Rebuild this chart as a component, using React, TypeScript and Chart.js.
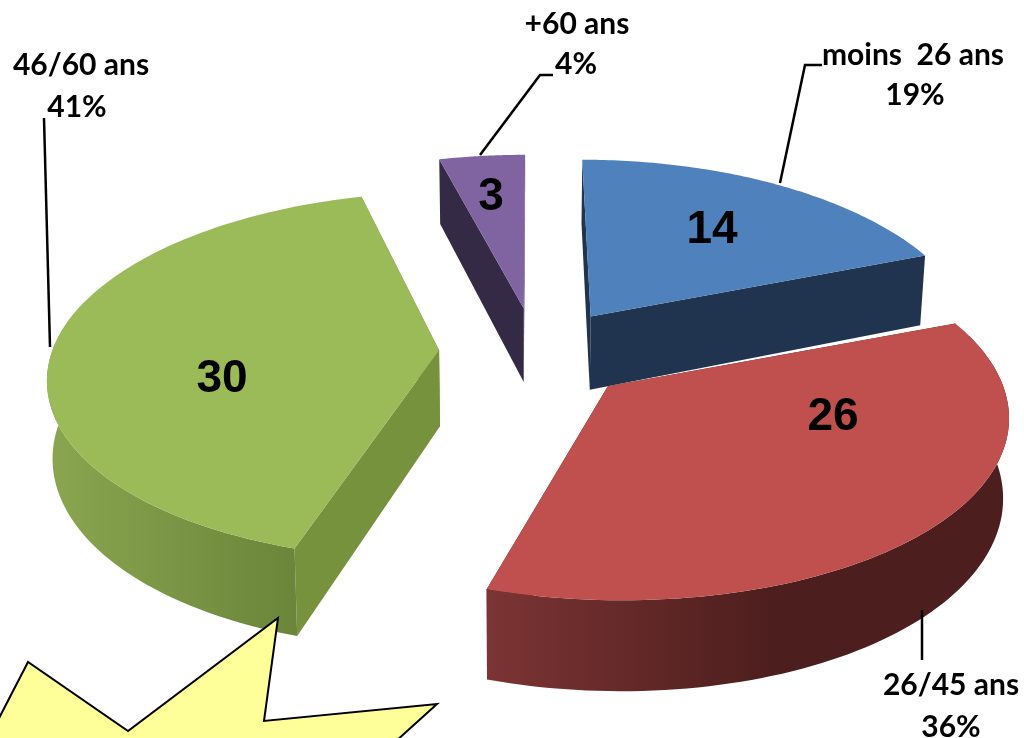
import React, { useEffect, useRef } from "react";
import { Chart, registerables } from "chart.js";

Chart.register(...registerables);

const categories = ["moins  26 ans", "26/45 ans", "46/60 ans", "+60 ans"];
const values = [14, 26, 30, 3];
const percents = ["19%", "36%", "41%", "4%"];

const topColors = ["#4f81bd", "#c0504d", "#9bbb59", "#8064a2"];
const cutColors = ["#20344f", "#4a1e1d", "#76923c", "#352a45"];
const wallStops = [
  ["#20344f", "#20344f"],
  ["#7c3434", "#4c1e1d"],
  ["#8aa650", "#6b853a"],
  ["#352a45", "#352a45"],
];

// view of the pie plane
const explode = [122, 122, 80, 90];
const nudgeX = [7, -1, 2, 18];
const nudgeY = [18, 0, 6, 5];
const stretchX = [1.06, 1.03, 1.04, 1.06];
const stretchZ = [1.08, 0.97, 1.01, 1.047];
const FOCAL = 2700;
const TILT = 0.48;
const DEPTH = 76;
const CONVERGE = 0.012;

const valuePos = [[712, 230], [833, 417], [222, 379], [491, 197]];
const leaders = [
  [[780, 183], [805, 65], [822, 65]],
  [[922, 610], [922, 660]],
  [[50, 347], [44, 118]],
  [[480, 155], [540, 75], [553, 75]],
];
const catPos = [[913, 55], [951, 685], [81, 65], [577, 24]];
const pctPos = [[915, 95], [951, 727], [77, 107], [576, 64]];
const star = [[-4, 724], [28, 662], [128, 731], [278, 618], [264, 721], [437, 704], [395, 742], [-4, 742]];

const pie3d = {
  id: "pie3d",
  beforeDatasetsDraw(chart: any) {
    const ctx = chart.ctx as CanvasRenderingContext2D;
    const arcs = chart.getDatasetMeta(0).data as any[];
    const order = arcs
      .map((_, i) => i)
      .sort((a, b) => {
        const z = (i: number) => Math.sin((arcs[i].startAngle + arcs[i].endAngle) / 2) * explode[i];
        return z(a) - z(b);
      });

    for (const i of order) {
      const arc = arcs[i];
      const { x: cx, y: cy, startAngle, endAngle, outerRadius: R } = arc;
      const mid = (startAngle + endAngle) / 2;
      const ox = Math.cos(mid) * explode[i];
      const oz = Math.sin(mid) * explode[i];
      const project = (px: number, pz: number): [number, number] => {
        const s = 1 / (1 - pz / FOCAL);
        return [cx + nudgeX[i] + px * s, cy + nudgeY[i] + pz * TILT * s];
      };
      const depthAt = (pz: number) => DEPTH / (1 - pz / FOCAL);
      const baseX = (x: number) => x + (cx - x) * CONVERGE;
      const apex = project(ox, oz);
      const apexD = depthAt(oz);
      const steps = 90;
      const rim: { p: [number, number]; d: number; a: number }[] = [];
      for (let k = 0; k <= steps; k++) {
        const a = startAngle + ((endAngle - startAngle) * k) / steps;
        const px = ox + Math.cos(a) * R * stretchX[i];
        const pz = oz + Math.sin(a) * R * stretchZ[i];
        rim.push({ p: project(px, pz), d: depthAt(pz), a });
      }
      const face = (p: [number, number], pd: number, q: [number, number], qd: number) => {
        ctx.beginPath();
        ctx.moveTo(p[0], p[1]);
        ctx.lineTo(q[0], q[1]);
        ctx.lineTo(baseX(q[0]), q[1] + qd);
        ctx.lineTo(baseX(p[0]), p[1] + pd);
        ctx.closePath();
        ctx.fillStyle = cutColors[i];
        ctx.fill();
      };
      const first = rim[0];
      const last = rim[rim.length - 1];
      // the two cut faces
      face(apex, apexD, first.p, first.d);
      face(last.p, last.d, apex, apexD);
      // outer wall
      const wall = rim.filter((r) => Math.sin(r.a) > -0.3);
      if (wall.length > 1) {
        const xs = wall.map((r) => r.p[0]);
        const x0 = Math.min(...xs);
        const x1 = Math.max(...xs);
        const g = ctx.createLinearGradient(x0, 0, x1, 0);
        if (i === 1) {
          g.addColorStop(0, wallStops[i][0]);
          g.addColorStop(0.55, wallStops[i][1]);
          g.addColorStop(1, wallStops[i][1]);
        } else {
          g.addColorStop(0, wallStops[i][0]);
          g.addColorStop(1, wallStops[i][1]);
        }
        ctx.beginPath();
        wall.forEach((r, k) => (k ? ctx.lineTo(r.p[0], r.p[1]) : ctx.moveTo(r.p[0], r.p[1])));
        [...wall].reverse().forEach((r) => ctx.lineTo(baseX(r.p[0]), r.p[1] + r.d));
        ctx.closePath();
        ctx.fillStyle = g;
        ctx.fill();
      }
      // top
      ctx.beginPath();
      ctx.moveTo(apex[0], apex[1]);
      rim.forEach((r) => ctx.lineTo(r.p[0], r.p[1]));
      ctx.closePath();
      ctx.fillStyle = arc.options.backgroundColor;
      ctx.fill();
    }

    // leader lines
    ctx.strokeStyle = "#000000";
    ctx.lineWidth = 2.5;
    for (const l of leaders) {
      ctx.beginPath();
      l.forEach((p, k) => (k ? ctx.lineTo(p[0], p[1]) : ctx.moveTo(p[0], p[1])));
      ctx.stroke();
    }

    // texts
    ctx.fillStyle = "#000000";
    ctx.textAlign = "center";
    ctx.textBaseline = "middle";
    ctx.font = 'bold 46px "Liberation Sans"';
    values.forEach((v, i) => ctx.fillText(String(v), valuePos[i][0], valuePos[i][1]));
    ctx.font = 'bold 30px Lato';
    categories.forEach((c, i) => {
      ctx.fillText(c, catPos[i][0], catPos[i][1]);
      ctx.fillText(percents[i], pctPos[i][0], pctPos[i][1]);
    });

    // callout star
    ctx.beginPath();
    star.forEach((p, k) => (k ? ctx.lineTo(p[0], p[1]) : ctx.moveTo(p[0], p[1])));
    ctx.closePath();
    ctx.fillStyle = "#ffff99";
    ctx.fill();
    ctx.strokeStyle = "#000000";
    ctx.lineWidth = 2;
    ctx.stroke();
    return false;
  },
};

export default function App() {
  const ref = useRef<HTMLCanvasElement>(null);
  useEffect(() => {
    const chart = new Chart(ref.current as HTMLCanvasElement, {
      type: "pie",
      data: {
        labels: categories,
        datasets: [{ data: values, backgroundColor: topColors, borderWidth: 0 }],
      },
      options: {
        animation: false,
        responsive: false,
        radius: 372,
        layout: { padding: { left: 10, bottom: 48 } },
        plugins: { legend: { display: false }, tooltip: { enabled: false }, title: { display: false } },
      } as any,
      plugins: [pie3d as any],
    });
    return () => chart.destroy();
  }, []);
  return (
    <div style={{ position: "fixed", left: 0, top: 0, width: 1024, height: 738, background: "#fff", overflow: "hidden" }}>
      <canvas ref={ref} width={1024} height={738} style={{ display: "block" }} />
    </div>
  );
}
